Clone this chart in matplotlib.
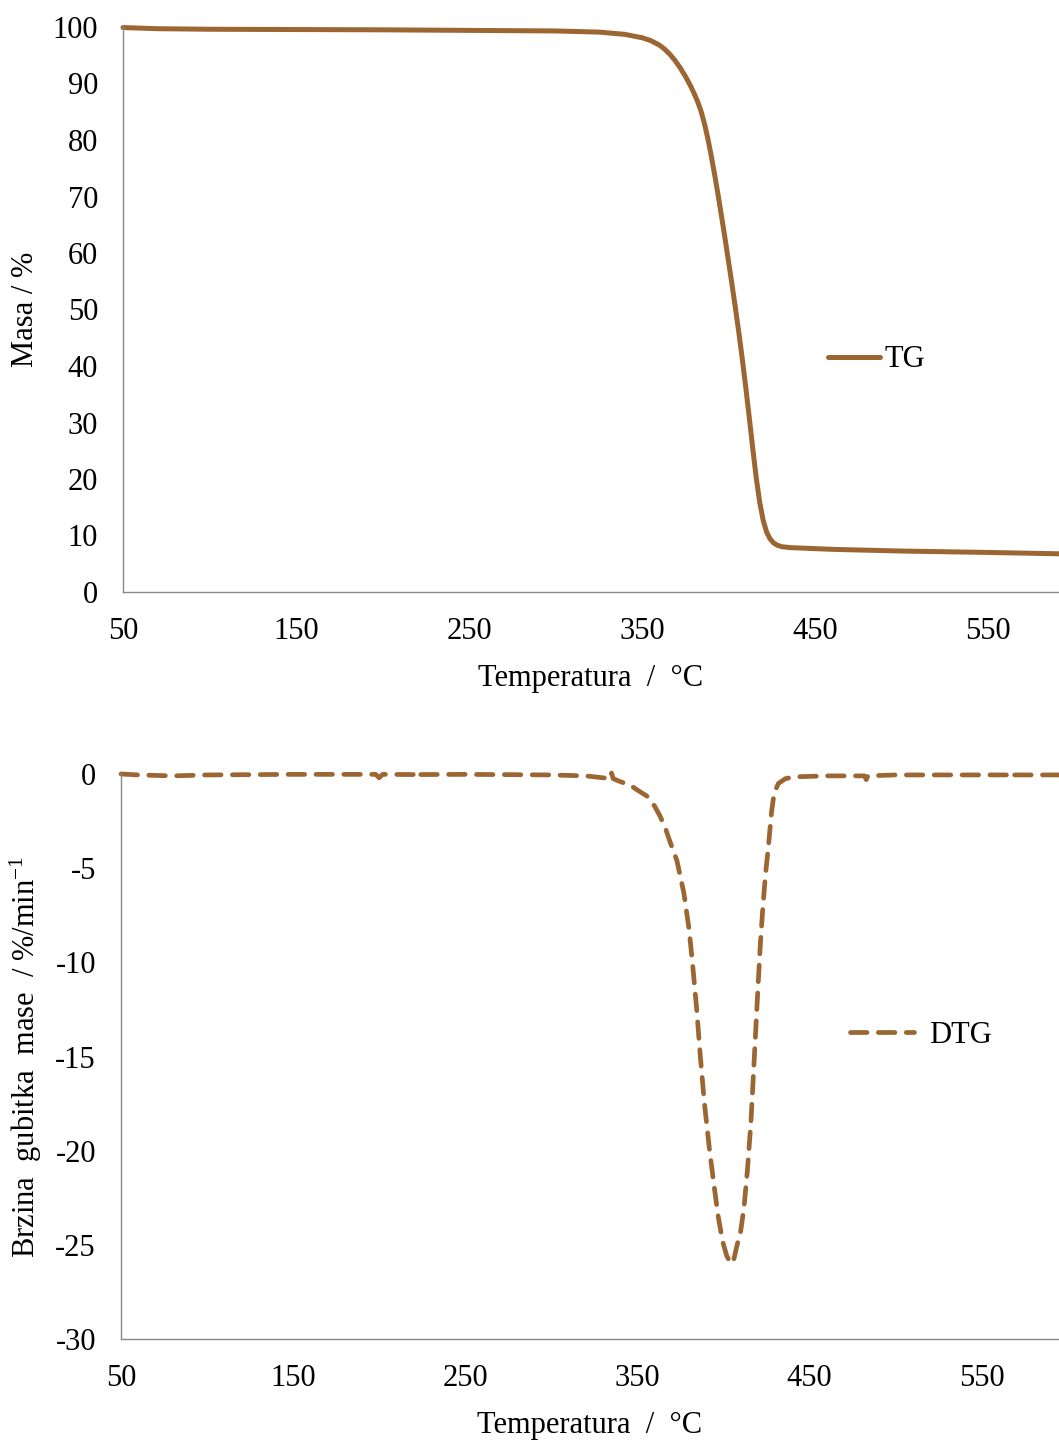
import matplotlib
matplotlib.use("Agg")
import matplotlib.pyplot as plt

plt.rcParams['font.family'] = ['Liberation Serif', 'DejaVu Serif']
plt.rcParams['mathtext.fontset'] = 'custom'
plt.rcParams['mathtext.rm'] = 'Liberation Serif'
plt.rcParams['mathtext.it'] = 'Liberation Serif:italic'
plt.rcParams['axes.unicode_minus'] = False

# ---- data ----
tg_temp = [50, 70, 100, 150, 200, 250, 300, 325, 340, 350, 355, 360, 363, 366, 369, 372,
           375, 378, 380, 382, 384, 386, 388, 390, 392, 394, 396, 398, 400, 402, 404,
           406, 408, 410, 412, 414, 416, 418, 420, 422, 424, 426, 428, 431, 436, 460,
           500, 550, 593]
tg_mass = [99.9, 99.7, 99.6, 99.55, 99.5, 99.4, 99.3, 99.1, 98.7, 98.1, 97.6, 96.8, 96.1,
           95.2, 94.1, 92.8, 91.3, 89.6, 88.3, 86.9, 85.2, 83.0, 80.3, 77.2, 73.8, 70.2,
           66.4, 62.5, 58.5, 54.4, 50.2, 45.8, 41.1, 36.1, 30.8, 25.4, 20.2, 15.9, 12.7,
           10.6, 9.4, 8.7, 8.3, 8.0, 7.85, 7.55, 7.25, 7.0, 6.75]

dtg_temp = [50, 60, 80, 100, 150, 198, 200, 202, 220, 222, 224, 250, 300, 320, 330, 334,
            335, 336, 340, 346, 350, 356, 360, 363, 366, 369, 373, 377, 380, 382, 384.5,
            386.6, 389, 392, 394.5, 397, 399.5, 402, 404.5, 406, 408, 410, 412, 414, 416,
            418, 420, 421.5, 423, 424.5, 426, 428, 429.5, 432, 436, 441, 460, 482, 483,
            484, 500, 550, 565, 566, 567, 595]
dtg_rate = [0.0, -0.05, -0.1, -0.05, -0.02, -0.02, -0.2, -0.02, -0.03, -0.25, -0.03,
            -0.02, -0.05, -0.1, -0.2, -0.25, 0.05, -0.25, -0.4, -0.6, -0.85, -1.2, -1.7,
            -2.2, -2.8, -3.6, -4.6, -6.3, -8.2, -10.0, -12.5, -15.0, -17.5, -20.0, -21.8,
            -23.5, -24.8, -25.6, -26.0, -25.8, -25.0, -24.3, -23.0, -21.0, -18.5, -15.0,
            -11.5, -9.0, -7.0, -5.3, -4.0, -2.0, -1.0, -0.5, -0.25, -0.15, -0.1, -0.1,
            -0.3, -0.1, -0.05, -0.05, -0.05, -0.2, -0.05, -0.05]

tg_xticks = [50, 150, 250, 350, 450, 550]
tg_yticks = [0, 10, 20, 30, 40, 50, 60, 70, 80, 90, 100]
dtg_yticks = [0, -5, -10, -15, -20, -25, -30]

color = '#9C6632'
spine_c = '#898989'
fs = 22

fig = plt.figure(figsize=(10.59, 14.41), dpi=100)
ax1 = fig.add_axes([123/1059, 1 - 592/1441, 1 - 123/1059, (592 - 27)/1441])
ax2 = fig.add_axes([121/1059, 1 - 1339/1441, 1 - 121/1059, (1339 - 774)/1441])

for ax in (ax1, ax2):
    for s in ('top', 'right'):
        ax.spines[s].set_visible(False)
    for s in ('left', 'bottom'):
        ax.spines[s].set_color(spine_c)
        ax.spines[s].set_linewidth(1.0)
    ax.tick_params(length=0, labelsize=fs, pad=18)
    ax.set_xticks(tg_xticks)

ax1.plot(tg_temp, tg_mass, color=color, lw=3.6, solid_capstyle='round',
         solid_joinstyle='round', clip_on=False, label='TG')
ax1.set_xlim(50, 591)
ax1.set_ylim(0, 100)
ax1.set_yticks(tg_yticks)
ax1.set_ylabel('Masa / %', fontsize=fs, labelpad=9)
ax1.set_xlabel('Temperatura  /  °C', fontsize=fs, labelpad=13)
ax1.legend(loc='center left', bbox_to_anchor=(0.753, 0.411), frameon=False,
           fontsize=fs, handlelength=1.7, handletextpad=0.15, borderpad=0,
           borderaxespad=0)

ax2.plot(dtg_temp, dtg_rate, color=color, lw=3.4, dashes=(3.5, 2.4),
         dash_capstyle='round', dash_joinstyle='round', clip_on=False, label='DTG')
ax2.set_xlim(50, 595)
ax2.set_ylim(-30, 0)
ax2.set_yticks(dtg_yticks)
ax2.set_ylabel('Brzina  gubitka  mase  / %/min$^{-1}$', fontsize=fs, labelpad=8)
ax2.set_xlabel('Temperatura  /  °C', fontsize=fs, labelpad=13)
ax2.legend(loc='center left', bbox_to_anchor=(0.777, 0.538), frameon=False,
           fontsize=fs, handlelength=2.1, handletextpad=0.5, borderpad=0,
           borderaxespad=0)

fig.savefig('out.png', dpi=100)
